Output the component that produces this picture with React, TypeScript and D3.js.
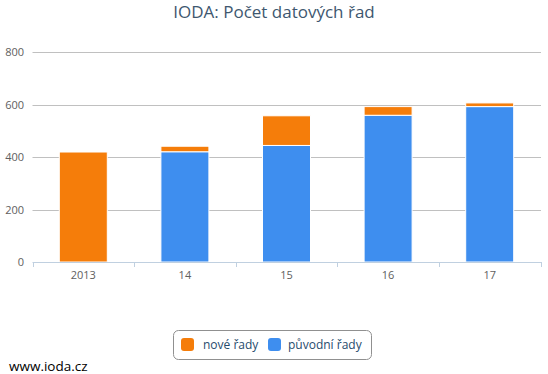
import React from "react";
import * as d3 from "d3";

const categories = ["2013", "14", "15", "16", "17"];
const puvodni = [0, 420, 444, 559, 592];
const nove = [419, 21, 113, 33, 14];
const yTicks = [0, 200, 400, 600, 800];
const seriesNames = ["nové řady", "původní řady"];
const colors = ["#F57D0A", "#3E8EEF"];

const W = 548, H = 374;
const FONT = "'Open Sans', 'DejaVu Sans', sans-serif";

export default function App() {
  const x = d3.scaleBand<string>().domain(categories).range([32.5, 540.5]);
  const y = d3.scaleLinear().domain([0, 800]).range([262, 52]);
  const barW = 48;
  const edges = d3.range(categories.length + 1).map((i) => 32.5 + i * x.step());

  return (
    <svg width={W} height={H} style={{ position: "absolute", left: 0, top: 0, fontFamily: FONT }}>
      <text x={274} y={18} textAnchor="middle" fontSize={17} fill="#3E576F">IODA: Počet datových řad</text>
      {yTicks.map((t) => (
        <g key={t}>
          {t > 0 && <line x1={32.5} x2={541} y1={Math.round(y(t)) + 0.5} y2={Math.round(y(t)) + 0.5} stroke="#C0C0C0" strokeWidth={1} />}
          <text x={24} y={y(t) + 4} textAnchor="end" fontSize={11} fill="#606060">{t}</text>
        </g>
      ))}
      {categories.map((c, i) => {
        const cx = (x(c) as number) + x.bandwidth() / 2;
        const b = puvodni[i];
        const n = nove[i];
        return (
          <g key={c}>
            {b > 0 && (
              <rect x={cx - barW / 2} y={y(b)} width={barW} height={y(0) - y(b)} fill={colors[1]} stroke="#fff" strokeWidth={1} />
            )}
            <rect x={cx - barW / 2} y={y(b + n)} width={barW} height={y(b) - y(b + n)} fill={colors[0]} stroke="#fff" strokeWidth={1} />
            <text x={cx} y={279} textAnchor="middle" fontSize={11} fill="#606060">{c}</text>
          </g>
        );
      })}
      <line x1={32.5} x2={541} y1={262.5} y2={262.5} stroke="#C0D0E0" strokeWidth={1} />
      {edges.map((e, i) => (
        <line key={i} x1={Math.round(e) + 0.5} x2={Math.round(e) + 0.5} y1={262} y2={267} stroke="#C0D0E0" strokeWidth={1} />
      ))}
      <rect x={173.5} y={330.5} width={198} height={29} rx={5} fill="#fff" stroke="#909090" strokeWidth={1} />
      <rect x={181} y={338} width={13} height={13} rx={3} fill={colors[0]} />
      <text x={203} y={349} fontSize={12} fill="#274b6d">{seriesNames[0]}</text>
      <rect x={268} y={338} width={13} height={13} rx={3} fill={colors[1]} />
      <text x={288} y={349} fontSize={12} fill="#274b6d">{seriesNames[1]}</text>
      <text x={9} y={371} fontSize={13.5} fill="#000">www.ioda.cz</text>
    </svg>
  );
}
